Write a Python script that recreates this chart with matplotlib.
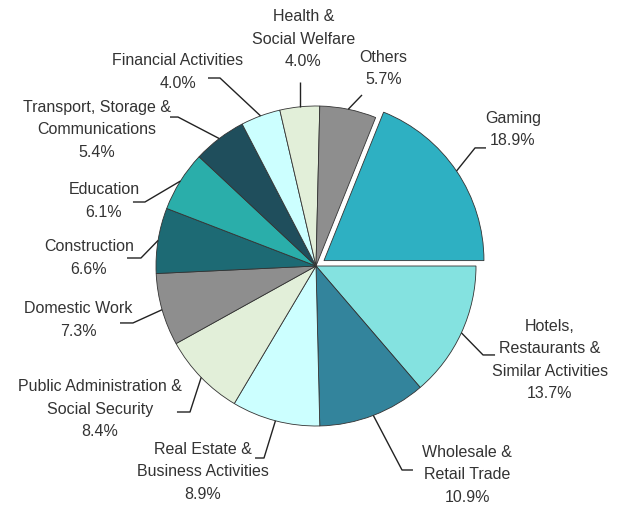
import matplotlib
matplotlib.use("Agg")
import matplotlib.pyplot as plt
import numpy as np

plt.rcParams['font.family'] = ['Liberation Sans', 'DejaVu Sans']

categories = ["Gaming", "Hotels,\nRestaurants &\nSimilar Activities", "Wholesale &\nRetail Trade",
              "Real Estate &\nBusiness Activities", "Public Administration &\nSocial Security",
              "Domestic Work", "Construction", "Education",
              "Transport, Storage &\nCommunications", "Financial Activities",
              "Health &\nSocial Welfare", "Others"]
values = [18.9, 13.7, 10.9, 8.9, 8.4, 7.3, 6.6, 6.1, 5.4, 4.0, 4.0, 5.7]
colors = ["#2EB0C2", "#84E2E0", "#33849C", "#CCFFFF", "#E2EFD9", "#8E8E8E",
          "#1D6A74", "#2AAEAA", "#1F4E5C", "#CCFFFF", "#E2EFD9", "#8E8E8E"]
explode = [0.06] + [0] * 11

# layout: (elbow x, elbow y, horizontal end x or None, text x, text y) in pie-radius units
layout = [
    (0.994, 0.738, 1.0625, 1.231, 0.853),
    (1.044, -0.556, 1.119, 1.4625, -0.5875),
    (0.5375, -1.275, 0.606, 0.944, -1.306),
    (-0.325, -1.200, -0.381, -0.706, -1.2875),
    (-0.7875, -0.9125, -0.869, -1.35, -0.894),
    (-1.144, -0.356, -1.225, -1.4875, -0.3375),
    (-1.094, 0.05, -1.181, -1.419, 0.05),
    (-1.069, 0.40, -1.144, -1.325, 0.406),
    (-0.8625, 0.931, -0.9125, -1.369, 0.85),
    (-0.60, 1.175, -0.675, -0.8625, 1.213),
    (None, 1.15, None, -0.08, 1.418),
    (0.2875, 1.069, None, 0.42, 1.234),
]

fig = plt.figure(figsize=(6.2, 5.07), dpi=100)
ax = fig.add_axes([0, 0, 1, 1])
total = sum(values)
wedges, _ = ax.pie(values, colors=colors, explode=explode, startangle=values[0] / total * 360,
                   counterclock=False, radius=1.0,
                   wedgeprops=dict(edgecolor="#333333", linewidth=0.6))

for w, cat, v, (ex, ey, hx, tx, ty) in zip(wedges, categories, values, layout):
    ang = np.deg2rad((w.theta1 + w.theta2) / 2)
    cx, cy = w.center
    sx, sy = cx + np.cos(ang), cy + np.sin(ang)
    if ex is None:
        ex = sx
    xs = [sx, ex]
    ys = [sy, ey]
    if hx is not None:
        xs.append(hx)
        ys.append(ey)
    ax.plot(xs, ys, color="#222222", lw=1.0, solid_capstyle="butt")
    ax.text(tx, ty, f"{cat}\n{v:.1f}%", ha="center", va="center", fontsize=11.5,
            color="#333333", linespacing=1.62)

ax.set_xlim(-316 / 160, 304 / 160)
ax.set_ylim(-241 / 160, 266 / 160)
ax.set_aspect("auto")
ax.axis("off")
fig.savefig("out.png", dpi=100, facecolor="white")
